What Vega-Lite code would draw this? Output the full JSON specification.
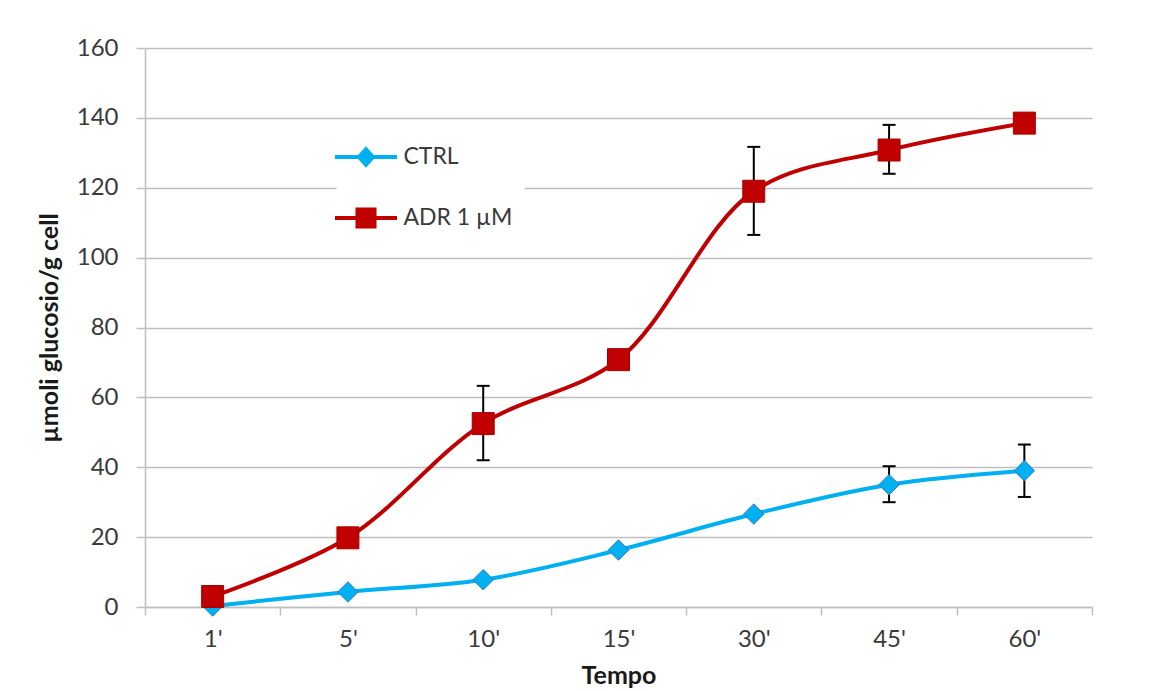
{
  "$schema": "https://vega.github.io/schema/vega-lite/v6.json",
  "width": 947,
  "height": 559,
  "autosize": "none",
  "padding": {"left": 145, "top": 48, "right": 63, "bottom": 84},
  "background": "white",
  "config": {"view": {"stroke": null}, "font": "Lato"},
  "data": {
    "values": [
      {"t": "1'", "series": "CTRL", "v": 0.3},
      {"t": "5'", "series": "CTRL", "v": 4.3},
      {"t": "10'", "series": "CTRL", "v": 7.8},
      {"t": "15'", "series": "CTRL", "v": 16.3},
      {"t": "30'", "series": "CTRL", "v": 26.6},
      {"t": "45'", "series": "CTRL", "v": 35, "lo": 30, "hi": 40.3},
      {"t": "60'", "series": "CTRL", "v": 39, "lo": 31.5, "hi": 46.5},
      {"t": "1'", "series": "ADR 1 µM", "v": 3},
      {"t": "5'", "series": "ADR 1 µM", "v": 19.8},
      {"t": "10'", "series": "ADR 1 µM", "v": 52.5, "lo": 42, "hi": 63.3},
      {"t": "15'", "series": "ADR 1 µM", "v": 70.8},
      {"t": "30'", "series": "ADR 1 µM", "v": 119, "lo": 106.5, "hi": 131.7},
      {"t": "45'", "series": "ADR 1 µM", "v": 130.8, "lo": 124, "hi": 138},
      {"t": "60'", "series": "ADR 1 µM", "v": 138.5, "lo": 136.5, "hi": 140.5}
    ]
  },
  "encoding": {
    "x": {
      "field": "t",
      "type": "nominal",
      "sort": ["1'", "5'", "10'", "15'", "30'", "45'", "60'"],
      "scale": {"type": "band", "paddingInner": 0, "paddingOuter": 0},
      "axis": {
        "title": "Tempo",
        "labelAngle": 0,
        "tickBand": "extent",
        "grid": false,
        "domainColor": "#BFBFBF",
        "domainWidth": 1.5,
        "tickColor": "#BFBFBF",
        "tickWidth": 1.5,
        "tickSize": 8,
        "labelFont": "Lato",
        "labelFontSize": 24,
        "labelColor": "#3a3a3a",
        "labelPadding": 12,
        "titleFont": "Lato",
        "titleFontSize": 25,
        "titleFontWeight": "bold",
        "titleColor": "#1a1a1a",
        "titlePadding": 12
      }
    }
  },
  "layer": [
    {
      "mark": {"type": "line", "interpolate": "catmull-rom", "strokeWidth": 4},
      "encoding": {
        "y": {
          "field": "v",
          "type": "quantitative",
          "scale": {"domain": [0, 160], "nice": false},
          "axis": {
            "values": [0, 20, 40, 60, 80, 100, 120, 140, 160],
            "title": "µmoli glucosio/g cell",
            "grid": true,
            "gridColor": "#BFBFBF",
            "gridWidth": 1.5,
            "domainColor": "#BFBFBF",
            "domainWidth": 1.5,
            "tickColor": "#BFBFBF",
            "tickWidth": 1.5,
            "tickSize": 9,
            "labelFont": "Lato",
            "labelFontSize": 24,
            "labelColor": "#3a3a3a",
            "labelPadding": 18,
            "titleFont": "Lato",
            "titleFontSize": 25,
            "titleFontWeight": "bold",
            "titleColor": "#1a1a1a",
            "titlePadding": 14
          }
        },
        "color": {
          "field": "series",
          "type": "nominal",
          "scale": {"domain": ["CTRL", "ADR 1 µM"], "range": ["#00B0F0", "#C00000"]},
          "legend": {
            "orient": "none",
            "legendX": 191.5,
            "legendY": 79.5,
            "title": null,
            "fillColor": "white",
            "padding": 12,
            "symbolSize": 961,
            "symbolStrokeWidth": 4,
            "rowPadding": 27,
            "labelFont": "Lato",
            "labelFontSize": 23,
            "labelColor": "#3a3a3a",
            "labelOffset": 20,
            "encode": {
              "symbols": {
                "update": {
                  "shape": {"signal": "datum.value === 'CTRL' ? 'M-2,0H2M0,-0.5L0.45,0L0,0.5L-0.45,0Z' : 'M-2,0H2M-0.55,-0.55H0.55V0.55H-0.55Z'"},
                  "fill": {"signal": "datum.value === 'CTRL' ? '#00B0F0' : '#C00000'"},
                  "stroke": {"signal": "datum.value === 'CTRL' ? '#00B0F0' : '#C00000'"},
                  "opacity": {"value": 1}
                }
              }
            }
          }
        }
      }
    },
    {
      "transform": [{"filter": "isValid(datum.lo)"}],
      "mark": {"type": "rule", "color": "black", "strokeWidth": 2},
      "encoding": {
        "y": {"field": "lo", "type": "quantitative"},
        "y2": {"field": "hi"}
      }
    },
    {
      "transform": [{"filter": "isValid(datum.lo)"}],
      "mark": {"type": "tick", "color": "black", "size": 13, "thickness": 2, "opacity": 1},
      "encoding": {"y": {"field": "lo", "type": "quantitative"}}
    },
    {
      "transform": [{"filter": "isValid(datum.hi)"}],
      "mark": {"type": "tick", "color": "black", "size": 13, "thickness": 2, "opacity": 1},
      "encoding": {"y": {"field": "hi", "type": "quantitative"}}
    },
    {
      "transform": [{"filter": "datum.series === 'CTRL'"}],
      "mark": {"type": "point", "shape": "diamond", "filled": true, "size": 420, "color": "#00B0F0", "stroke": "#3A7BC0", "strokeWidth": 1, "opacity": 1},
      "encoding": {"y": {"field": "v", "type": "quantitative"}}
    },
    {
      "transform": [{"filter": "datum.series !== 'CTRL'"}],
      "mark": {"type": "square", "size": 484, "color": "#C00000", "stroke": "#A80000", "strokeWidth": 1, "opacity": 1},
      "encoding": {"y": {"field": "v", "type": "quantitative"}}
    }
  ]
}
